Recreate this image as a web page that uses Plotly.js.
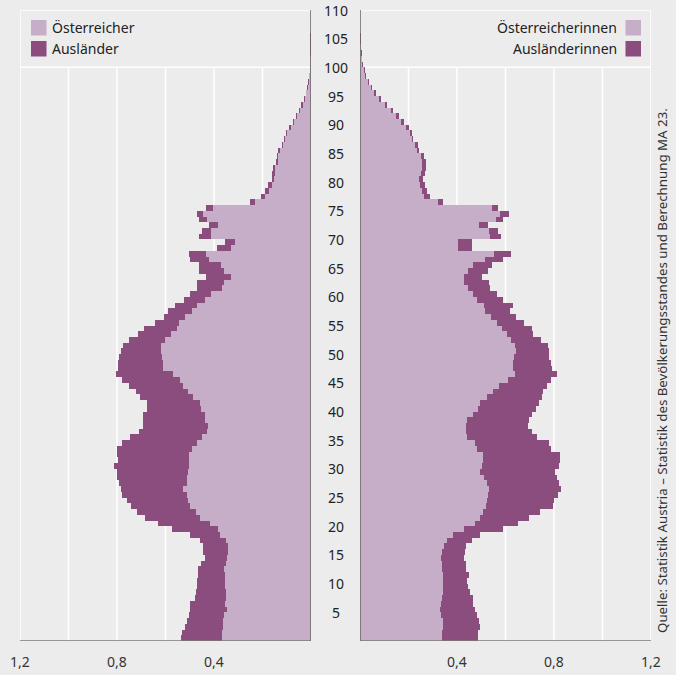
<!DOCTYPE html>
<html>
<head>
<meta charset="utf-8">
<script src="https://cdn.plot.ly/plotly-3.0.1.min.js"></script>
<style>
html,body{margin:0;padding:0;background:#ececec;}
#chart{width:676px;height:675px;}
</style>
</head>
<body>
<div id="chart"></div>
<script>
// Ages (single years)
const ages = [0,1,2,3,4,5,6,7,8,9,10,11,12,13,14,15,16,17,18,19,20,21,22,23,24,25,26,27,28,29,
30,31,32,33,34,35,36,37,38,39,40,41,42,43,44,45,46,47,48,49,50,51,52,53,54,55,56,57,58,59,
60,61,62,63,64,65,66,67,68,69,70,71,72,73,74,75,76,77,78,79,80,81,82,83,84,85,86,87,88,89,
90,91,92,93,94,95,96,97,98,99,100,101,102,103,104,105,106,107,108,109];

// Men, Austrian citizens (% of population)
const oesterreicher = [0.368,0.367,0.364,0.362,0.357,0.348,0.353,0.351,0.352,0.355,
0.356,0.355,0.359,0.351,0.345,0.341,0.344,0.351,0.375,0.382,
0.416,0.458,0.474,0.499,0.506,0.513,0.527,0.513,0.510,0.508,
0.504,0.503,0.503,0.492,0.471,0.451,0.428,0.423,0.437,0.437,
0.454,0.458,0.485,0.509,0.529,0.540,0.570,0.609,0.612,0.616,
0.620,0.619,0.602,0.579,0.551,0.543,0.520,0.492,0.469,0.437,
0.414,0.365,0.358,0.330,0.359,0.372,0.419,0.433,0.330,0.313,
0.414,0.414,0.385,0.430,0.444,0.405,0.231,0.190,0.173,0.162,
0.153,0.150,0.147,0.137,0.135,0.129,0.115,0.106,0.098,0.084,
0.070,0.056,0.045,0.034,0.026,0.019,0.014,0.010,0.007,0.005,
0.004,0.003,0.002,0.002,0.001,0.001,0.001,0.000,0.000,0.000];

// Men, foreign citizens
const auslaender = [0.168,0.166,0.156,0.151,0.145,0.151,0.146,0.127,0.122,0.116,
0.113,0.110,0.106,0.103,0.092,0.103,0.103,0.107,0.124,0.192,
0.214,0.227,0.242,0.245,0.251,0.268,0.258,0.277,0.288,0.293,
0.308,0.292,0.296,0.309,0.310,0.295,0.280,0.268,0.254,0.257,
0.224,0.217,0.220,0.213,0.220,0.241,0.234,0.186,0.185,0.174,
0.165,0.157,0.147,0.133,0.138,0.100,0.086,0.096,0.092,0.087,
0.085,0.106,0.111,0.103,0.101,0.088,0.080,0.070,0.059,0.042,
0.046,0.037,0.034,0.030,0.027,0.028,0.021,0.017,0.017,0.014,
0.009,0.009,0.008,0.007,0.006,0.006,0.006,0.005,0.005,0.005,
0.006,0.006,0.006,0.006,0.004,0.003,0.002,0.002,0.002,0.001,
0.001,0.001,0.001,0.001,0.002,0.002,0.000,0.000,0.000,0.000];

// Women, Austrian citizens
const oesterreicherinnen = [0.337,0.338,0.341,0.341,0.333,0.330,0.334,0.337,0.341,0.341,
0.341,0.341,0.338,0.337,0.334,0.337,0.346,0.360,0.385,0.429,
0.474,0.495,0.508,0.520,0.525,0.529,0.533,0.522,0.511,0.495,
0.502,0.506,0.506,0.481,0.474,0.440,0.437,0.437,0.440,0.467,
0.488,0.495,0.522,0.547,0.574,0.612,0.639,0.630,0.632,0.635,
0.643,0.639,0.621,0.605,0.584,0.566,0.539,0.515,0.513,0.484,
0.465,0.447,0.429,0.429,0.447,0.467,0.515,0.553,0.405,0.405,
0.536,0.532,0.492,0.561,0.577,0.543,0.323,0.265,0.254,0.247,
0.245,0.250,0.254,0.254,0.252,0.234,0.227,0.213,0.206,0.190,
0.170,0.150,0.128,0.105,0.078,0.058,0.045,0.035,0.020,0.016,
0.010,0.007,0.005,0.003,0.002,0.001,0.001,0.001,0.000,0.000];

// Women, foreign citizens
const auslaenderinnen = [0.148,0.147,0.154,0.151,0.148,0.144,0.133,0.128,0.113,0.103,
0.099,0.110,0.099,0.100,0.095,0.096,0.091,0.101,0.110,0.159,
0.179,0.203,0.234,0.277,0.275,0.289,0.296,0.299,0.303,0.309,
0.320,0.319,0.319,0.305,0.307,0.291,0.271,0.257,0.258,0.241,
0.238,0.243,0.227,0.209,0.198,0.174,0.172,0.162,0.156,0.146,
0.136,0.138,0.124,0.110,0.124,0.112,0.104,0.104,0.117,0.107,
0.099,0.089,0.103,0.073,0.082,0.079,0.076,0.068,0.056,0.056,
0.045,0.038,0.037,0.030,0.039,0.027,0.021,0.024,0.021,0.021,
0.016,0.018,0.018,0.018,0.013,0.009,0.011,0.007,0.007,0.012,
0.012,0.010,0.009,0.008,0.007,0.006,0.005,0.004,0.003,0.003,
0.002,0.002,0.002,0.002,0.002,0.002,0.001,0.001,0.002,0.001];

const seriesNames = ['Österreicher','Ausländer','Österreicherinnen','Ausländerinnen'];
const ageTicks = [5,10,15,20,25,30,35,40,45,50,55,60,65,70,75,80,85,90,95,100,105,110];
const xTickVals = [0.4,0.8,1.2];
const xTickText = ['0,4','0,8','1,2'];
const gridVals = [0.2,0.4,0.6,0.8,1.0];
const source = 'Quelle: Statistik Austria – Statistik des Bevölkerungsstandes und Berechnung MA 23.';

const LIGHT = '#c7aec8', DARK = '#8b4c7e', BG = '#ececec';
const FONT = 'Noto Sans, sans-serif';
const yPos = ages.map(a => a + 0.5);

function bar(x, name, color, xa){
  return {type:'bar', orientation:'h', x:x, y:yPos, name:name, xaxis:xa, yaxis:'y',
    width:1, marker:{color:color, line:{width:0}}, showlegend:false, hoverinfo:'skip'};
}
const data = [
  bar(oesterreicher, seriesNames[0], LIGHT, 'x'),
  bar(auslaender, seriesNames[1], DARK, 'x'),
  bar(oesterreicherinnen, seriesNames[2], LIGHT, 'x2'),
  bar(auslaenderinnen, seriesNames[3], DARK, 'x2')
];

const shapes = [];
function line(xref, x0, y0, x1, y1, color, w, layer){
  shapes.push({type:'line', xref:xref, yref:'y', x0:x0, y0:y0, x1:x1, y1:y1,
    line:{color:color, width:w}, layer:layer||'below'});
}
['x','x2'].forEach(xr => {
  gridVals.forEach(v => line(xr, v, 0, v, 100, '#ffffff', 1.5));
  line(xr, 1.2, 0, 1.2, 110, '#ffffff', 1.5);
  line(xr, 0, 100, 1.2, 100, '#ffffff', 1.5);
  line(xr, 0, 110, 1.2, 110, '#ffffff', 1.5);
  line(xr, 0, 0, 0, 110, '#666666', 1.5, 'above');
  line(xr, 0, 0, 1.2, 0, '#7a7a7a', 1.5, 'above');
});

// legend squares (paper coords)
function px2x(p){ return (p-20)/631; }
function px2y(p){ return (641-p)/631; }
function sq(x0,y0,color){
  shapes.push({type:'rect', xref:'paper', yref:'paper', x0:px2x(x0), x1:px2x(x0+15.5),
    y0:px2y(y0+15.5), y1:px2y(y0), fillcolor:color, line:{width:0}, layer:'above'});
}
sq(31,20,LIGHT); sq(31,41,DARK); sq(625.5,20,LIGHT); sq(625.5,41,DARK);

const annotations = [];
ageTicks.forEach(a => annotations.push({xref:'paper', yref:'y', x:px2x(336), y:a, text:String(a),
  showarrow:false, xanchor:'center', yanchor:'middle', font:{family:FONT, size:14, color:'#222'}}));
function txt(x, y, t, anchor){
  annotations.push({xref:'paper', yref:'paper', x:px2x(x), y:px2y(y), text:t, showarrow:false,
    xanchor:anchor, yanchor:'middle', font:{family:FONT, size:14, color:'#222'}});
}
txt(50, 27.5, seriesNames[0], 'left');
txt(50, 48.5, seriesNames[1], 'left');
txt(619, 27.5, seriesNames[2], 'right');
txt(619, 48.5, seriesNames[3], 'right');
annotations.push({xref:'paper', yref:'paper', x:px2x(662), y:px2y(371), text:source, textangle:-90,
  showarrow:false, xanchor:'center', yanchor:'middle', font:{family:FONT, size:13.3, color:'#333'}});

const axisCommon = {showgrid:false, zeroline:false, showline:false, fixedrange:true,
  tickvals:xTickVals, ticktext:xTickText, ticks:'outside', ticklen:8, tickcolor:'rgba(0,0,0,0)',
  tickfont:{family:FONT, size:14, color:'#333'}, anchor:'y'};

const layout = {
  width:676, height:675, paper_bgcolor:BG, plot_bgcolor:BG,
  margin:{l:20, r:25, t:10, b:34},
  barmode:'stack', bargap:0,
  xaxis:Object.assign({}, axisCommon, {domain:[0, 291/631], range:[1.2, 0]}),
  xaxis2:Object.assign({}, axisCommon, {domain:[340/631, 1], range:[0, 1.2]}),
  yaxis:{range:[0,110], showgrid:false, zeroline:false, showline:false, showticklabels:false, ticks:'', fixedrange:true},
  shapes:shapes, annotations:annotations, font:{family:FONT}
};
Plotly.newPlot('chart', data, layout, {staticPlot:true, displayModeBar:false});
</script>
</body>
</html>
